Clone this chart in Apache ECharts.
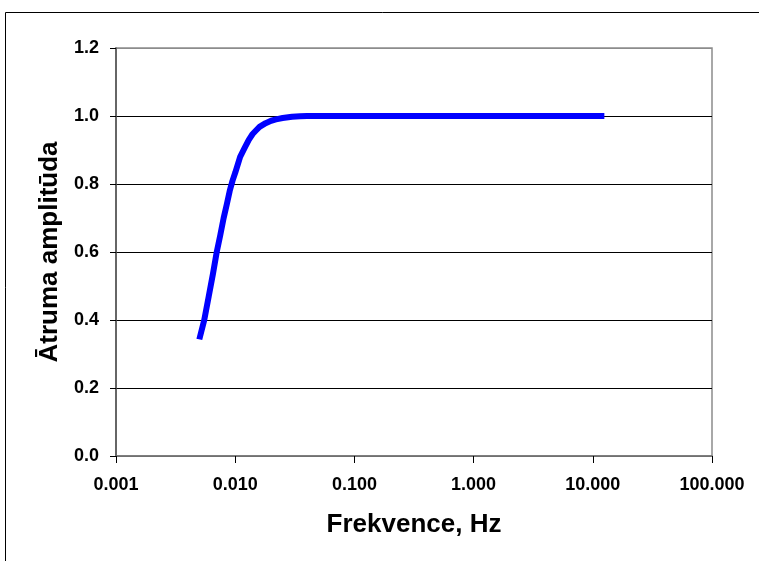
<!DOCTYPE html>
<html>
<head>
<meta charset="utf-8">
<script src="https://cdn.jsdelivr.net/npm/echarts@6/dist/echarts.min.js"></script>
<style>
  html, body { margin: 0; padding: 0; background: #fff; }
  #chart { width: 759px; height: 561px; }
</style>
</head>
<body>
<div id="chart"></div>
<script>
// Frequency response: velocity amplitude vs frequency (Hz)
const frequencies = [
  0.005, 0.0055, 0.006, 0.0065, 0.007, 0.0075, 0.008, 0.0085, 0.009, 0.0095,
  0.010, 0.011, 0.012, 0.013, 0.014, 0.015, 0.016, 0.018, 0.020, 0.022,
  0.025, 0.030, 0.035, 0.040, 0.050, 0.070, 0.100, 0.150, 0.200, 0.300,
  0.500, 0.700, 1.000, 1.500, 2.000, 3.000, 5.000, 7.000, 10.000, 12.500
];
const amplitudes = [
  0.343, 0.40, 0.47, 0.535, 0.60, 0.65, 0.70, 0.74, 0.78, 0.81,
  0.833, 0.88, 0.906, 0.93, 0.947, 0.958, 0.968, 0.979, 0.986, 0.990,
  0.994, 0.998, 0.999, 1.0, 1.0, 1.0, 1.0, 1.0, 1.0, 1.0,
  1.0, 1.0, 1.0, 1.0, 1.0, 1.0, 1.0, 1.0, 1.0, 1.0
];
const xAxisTitle = 'Frekvence, Hz';
const yAxisTitle = 'Ātruma amplitūda';

const FONT = "'Liberation Sans', Arial, sans-serif";
const chart = echarts.init(document.getElementById('chart'), null, { renderer: 'canvas' });

const points = frequencies.map((f, i) => [f, amplitudes[i]]);

chart.setOption({
  animation: false,
  backgroundColor: '#ffffff',
  textStyle: { fontFamily: FONT },
  graphic: [{
    type: 'rect',
    shape: { x: 5.5, y: 12.5, width: 800, height: 600 },
    style: { fill: null, stroke: '#000', lineWidth: 1 },
    silent: true,
    z: -10
  }],
  grid: {
    left: 116, top: 48, width: 596, height: 408,
    show: true, borderColor: '#8c8c8c', borderWidth: 1.5,
    backgroundColor: 'transparent'
  },
  xAxis: {
    type: 'log',
    logBase: 10,
    min: 0.001,
    max: 100,
    name: xAxisTitle,
    nameLocation: 'middle',
    nameGap: 56,
    nameTextStyle: { fontFamily: FONT, fontWeight: 'bold', fontSize: 26, color: '#000' },
    axisLine: { show: true, onZero: false, lineStyle: { color: '#707070', width: 1.5 } },
    axisTick: { show: true, inside: false, length: 7, lineStyle: { color: '#000', width: 1 } },
    axisLabel: {
      show: true, margin: 20, showMinLabel: true, showMaxLabel: true,
      fontFamily: FONT, fontWeight: 'bold', fontSize: 18, color: '#000',
      formatter: v => Number(v).toFixed(3)
    },
    splitLine: { show: false },
    minorTick: { show: false }
  },
  yAxis: {
    type: 'value',
    min: 0,
    max: 1.2,
    interval: 0.2,
    name: yAxisTitle,
    nameLocation: 'middle',
    nameRotate: 90,
    nameGap: 46,
    nameTextStyle: { fontFamily: FONT, fontWeight: 'bold', fontSize: 26, color: '#000' },
    axisLine: { show: true, lineStyle: { color: '#505050', width: 1.5 } },
    axisTick: { show: true, inside: false, length: 6, lineStyle: { color: '#000', width: 1 } },
    axisLabel: {
      margin: 17, fontFamily: FONT, fontWeight: 'bold', fontSize: 18, color: '#000',
      formatter: v => Number(v).toFixed(1)
    },
    splitLine: {
      show: true,
      lineStyle: { color: ['#707070', '#000', '#000', '#000', '#000', '#000', '#8c8c8c'], width: 1 }
    }
  },
  series: [{
    type: 'line',
    data: points,
    showSymbol: false,
    symbol: 'none',
    smooth: false,
    lineStyle: { color: '#0000ff', width: 6, cap: 'butt', join: 'round' },
    itemStyle: { color: '#0000ff' },
    z: 5
  }]
});
</script>
</body>
</html>
